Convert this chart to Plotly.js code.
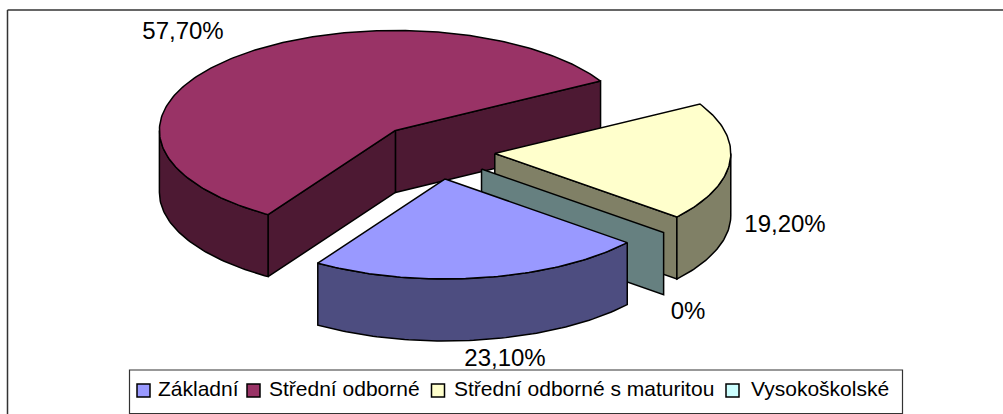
<!DOCTYPE html>
<html>
<head>
<meta charset="utf-8">
<script src="https://cdn.plot.ly/plotly-3.0.1.min.js"></script>
<style>html,body{margin:0;padding:0;background:#fff;overflow:hidden}#c{width:1003px;height:414px}</style>
</head>
<body>
<div id="c"></div>
<script>
// Data
const categories = ["Základní", "Střední odborné", "Střední odborné s maturitou", "Vysokoškolské"];
const values = [23.1, 57.7, 19.2, 0];
const valueLabels = ["23,10%", "57,70%", "19,20%", "0%"];
const topColors = ["#9999FF", "#993366", "#FFFFCC", "#CCFFFF"];
const wallColors = ["#4D4D80", "#4D1933", "#808066", "#668080"];

// Drawing geometry of the tilted pie, in pixel-scaled axis units
const center = [436, 151], radiusX = 236, radiusY = 100, depth = 62, explode = 59, explodeTilt = 0.48, startAngle = 39.5;
const labelPos = [[505, 360], [183, 33], [785, 226], [688, 313]];
const swatchX = [143.5, 253.5, 438, 732.5], legendTextX = [157, 268, 453, 750], legendY = 390.5;

const total = values.reduce((a, b) => a + b, 0);
const rad = d => d * Math.PI / 180;
let running = startAngle;
const slices = values.map(v => {
  const a0 = running, a1 = running + v / total * 360;
  running = a1;
  const mid = rad((a0 + a1) / 2);
  const ox = center[0] + explode * Math.cos(mid), oy = center[1] + explode * explodeTilt * Math.sin(mid);
  const pt = (a, dz) => [ox + radiusX * Math.cos(rad(a)), oy + radiusY * Math.sin(rad(a)) + (dz || 0)];
  return {a0, a1, apex: [ox, oy], pt};
});
function arc(s, from, to, dz) {
  const n = Math.max(2, Math.ceil(Math.abs(to - from)));
  const out = [];
  for (let i = 0; i <= n; i++) out.push(s.pt(from + (to - from) * i / n, dz));
  return out;
}
const traces = [];
function poly(points, fill) {
  const p = points.concat([points[0]]);
  traces.push({type: "scatter", mode: "lines", x: p.map(q => q[0]), y: p.map(q => q[1]), fill: "toself",
    fillcolor: fill, line: {color: "#000", width: 1.5}, hoverinfo: "skip", showlegend: false});
}
function cutFace(i, angle) {
  const s = slices[i], e = s.pt(angle);
  poly([s.apex, e, [e[0], e[1] + depth], [s.apex[0], s.apex[1] + depth]], wallColors[i]);
}
function outerWall(i, from, to) {
  const s = slices[i];
  poly(arc(s, from, to, 0).concat(arc(s, to, from, depth)), wallColors[i]);
}
function topFace(i) {
  const s = slices[i];
  poly([s.apex].concat(arc(s, s.a0, s.a1, 0)), topColors[i]);
}
// Back to front: second slice, third slice, zero slice, first slice
cutFace(1, slices[1].a1); cutFace(1, slices[1].a0);
outerWall(1, slices[1].a0, 180); topFace(1);
cutFace(2, slices[2].a1);
outerWall(2, 360, slices[2].a1); topFace(2);
cutFace(3, slices[3].a0);
outerWall(0, slices[0].a0, slices[0].a1); topFace(0);

// Value labels
traces.push({type: "scatter", mode: "text", x: labelPos.map(p => p[0]), y: labelPos.map(p => p[1]),
  text: valueLabels, textposition: "middle center", hoverinfo: "skip", showlegend: false,
  textfont: {family: "Liberation Sans, Arial, sans-serif", size: 24, color: "#000"}});
// Legend swatches
traces.push({type: "scatter", mode: "markers", x: swatchX, y: swatchX.map(() => legendY), hoverinfo: "skip", showlegend: false,
  marker: {symbol: "square", size: 13, color: topColors, line: {color: "#000", width: 1.5}}});

const annotations = categories.map((c, i) => ({
  x: legendTextX[i], y: legendY - 2, xref: "x", yref: "y", text: c, showarrow: false, xanchor: "left", yanchor: "middle",
  xshift: -1, font: {family: "Liberation Sans, Arial, sans-serif", size: 21, color: "#000"}
}));
const frame = {color: "#333", width: 1.5};
const shapes = [
  {type: "line", xref: "x", yref: "y", x0: 7.5, x1: 1003, y0: 10, y1: 10, line: frame},
  {type: "line", xref: "x", yref: "y", x0: 7.5, x1: 7.5, y0: 10, y1: 414, line: frame},
  {type: "rect", xref: "x", yref: "y", x0: 129.5, x1: 902.5, y0: 370, y1: 413.5, line: {color: "#333", width: 1.2}, fillcolor: "#fff", layer: "below"}
];
const layout = {
  width: 1003, height: 414, margin: {l: 0, r: 0, t: 0, b: 0}, showlegend: false,
  paper_bgcolor: "#fff", plot_bgcolor: "#fff",
  xaxis: {range: [0, 1003], visible: false, fixedrange: true},
  yaxis: {range: [414, 0], visible: false, fixedrange: true},
  annotations, shapes
};
Plotly.newPlot("c", traces, layout, {displayModeBar: false, staticPlot: true});
</script>
</body>
</html>
